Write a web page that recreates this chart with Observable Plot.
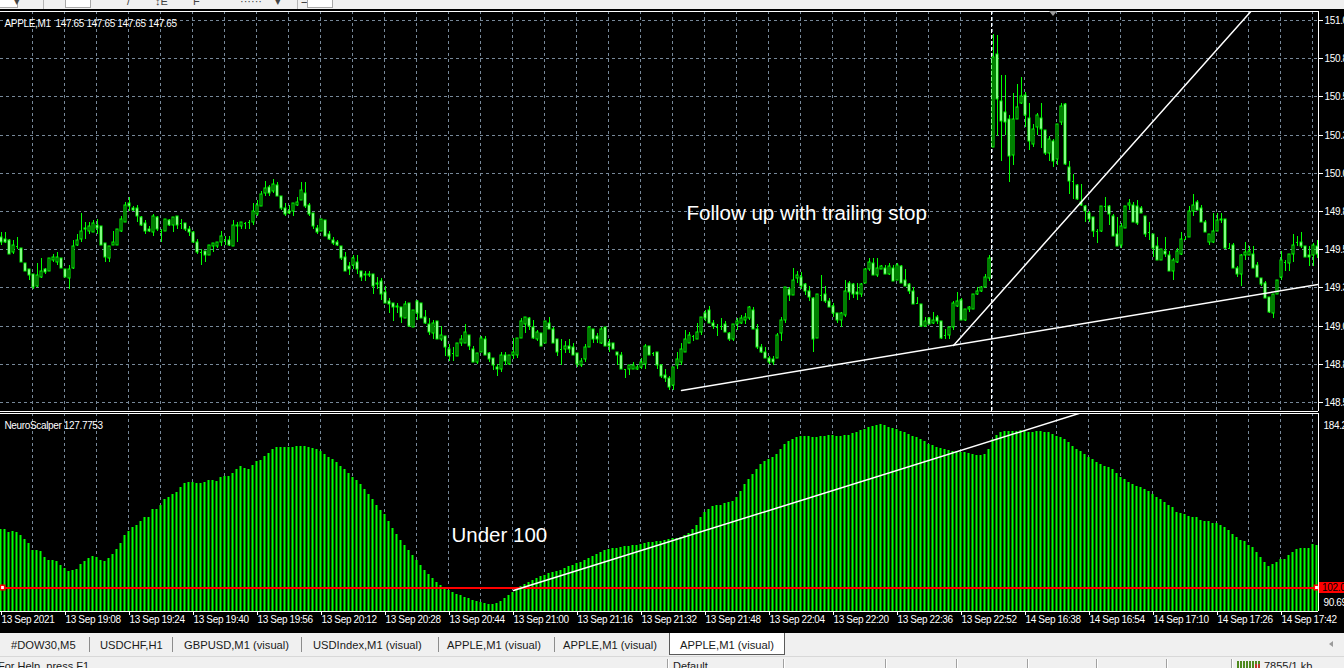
<!DOCTYPE html>
<html>
<head>
<meta charset="utf-8">
<script src="https://cdn.jsdelivr.net/npm/d3@7"></script>
<script src="https://cdn.jsdelivr.net/npm/@observablehq/plot@0.6"></script>
<style>
  html, body { margin: 0; padding: 0; width: 1344px; height: 668px; overflow: hidden; background: #000; }
  #root { position: relative; width: 1344px; height: 668px; background: #000; font-family: "Liberation Sans", Arial, sans-serif; overflow: hidden; }
  #price { position: absolute; left: 0; top: 0; }
  #osc { position: absolute; left: 0; top: 412px; }
  #root svg { letter-spacing: -0.35px; }
  #root svg g[font-size="20.5"] { letter-spacing: 0; }
  #toolbar { position: absolute; left: 0; top: 0; width: 1344px; height: 9px; background: #f0f0f0; overflow: hidden; z-index: 2; }
  #toolbar .box { position: absolute; top: -6px; height: 12px; background: #fff; border: 1px solid #a8a8a8; }
  #toolbar .sep { position: absolute; top: 0; width: 1px; height: 9px; background: #b4b4b4; }
  #toolbar .g { position: absolute; top: -5px; font-size: 11px; color: #444; }
  #shift { position: absolute; left: 1049px; top: 11px; width: 0; height: 0; border-left: 4px solid transparent; border-right: 4px solid transparent; border-top: 5px solid #9a9a9a; z-index: 2; }
  #lvl { position: absolute; left: 1319px; width: 25px; height: 11px; background: #ff0000; color: #000; font-size: 10px; line-height: 11px; padding-left: 3px; letter-spacing: -0.3px; white-space: nowrap; overflow: hidden; }
  #tabs { position: absolute; left: 0; top: 633px; width: 1344px; height: 23px; background: #f0f0f0; font-size: 11.2px; color: #1a1a1a; }
  #tabs .t { position: absolute; top: 6px; white-space: nowrap; }
  #tabs .s { position: absolute; top: 4px; width: 1px; height: 15px; background: #8c8c8c; }
  #tabs .active { position: absolute; left: 669px; top: 0; width: 114px; height: 21px; background: #fff; border: 1px solid #5a5a5a; border-top: none; }
  #tabs .active span { position: absolute; left: 10px; top: 6px; white-space: nowrap; }
  #tabs .arrow { position: absolute; left: 1329px; top: 8px; width: 0; height: 0; border-top: 3px solid transparent; border-bottom: 3px solid transparent; border-right: 4px solid #9a9a9a; }
  #status { position: absolute; left: 0; top: 656px; width: 1344px; height: 12px; background: #f0f0f0; border-top: 1px solid #d8d8d8; font-size: 11px; color: #1a1a1a; overflow: hidden; }
  #status .t { position: absolute; top: 3px; white-space: nowrap; }
  #status .s { position: absolute; top: 2px; width: 1px; height: 12px; background: #a0a0a0; box-shadow: 1px 0 0 #fff; }
  #status .meter { position: absolute; left: 1237px; top: 4px; width: 24px; height: 9px;
    background: repeating-linear-gradient(90deg, #4f8a1e 0 2px, transparent 2px 3px); }
  #status .meter i { position: absolute; right: 0; top: 3px; width: 6px; height: 6px;
    background: repeating-linear-gradient(90deg, #c0392b 0 2px, transparent 2px 3px); }
</style>
</head>
<body>
<div id="root">
  <div id="price"></div>
  <div id="osc"></div>
  <div id="toolbar">
    <div class="box" style="left:-2px;width:18px"></div>
    <span class="g" style="left:14px">&#9662;</span>
    <div class="sep" style="left:43px"></div>
    <div class="box" style="left:65px;width:24px"></div>
    <span class="g" style="left:127px">/</span>
    <span class="g" style="left:155px">&#8597;E</span>
    <span class="g" style="left:193px">F</span>
    <span class="g" style="left:240px">&middot;&middot;&middot;&middot;&middot;&middot;</span>
    <span class="g" style="left:275px">&#9662;</span>
    <div class="sep" style="left:297px"></div>
    <span class="g" style="left:301px">=</span>
    <div class="box" style="left:307px;width:24px"></div>
  </div>
  <div id="shift"></div>
  <div id="lvl"></div>
  <div id="tabs">
    <span class="t" style="left:11px">#DOW30,M5</span>
    <div class="s" style="left:89px"></div>
    <span class="t" style="left:100px">USDCHF,H1</span>
    <div class="s" style="left:172px"></div>
    <span class="t" style="left:184px">GBPUSD,M1 (visual)</span>
    <div class="s" style="left:301px"></div>
    <span class="t" style="left:313px">USDIndex,M1 (visual)</span>
    <div class="s" style="left:438px"></div>
    <span class="t" style="left:447px">APPLE,M1 (visual)</span>
    <div class="s" style="left:554px"></div>
    <span class="t" style="left:563px">APPLE,M1 (visual)</span>
    <div class="active"><span>APPLE,M1 (visual)</span></div>
    <div class="arrow"></div>
  </div>
  <div id="status">
    <span class="t" style="left:-2px">For Help, press F1</span>
    <div class="s" style="left:667px"></div>
    <span class="t" style="left:673px">Default</span>
    <div class="s" style="left:783px"></div>
    <div class="s" style="left:885px"></div>
    <div class="s" style="left:956px"></div>
    <div class="s" style="left:1027px"></div>
    <div class="s" style="left:1096px"></div>
    <div class="s" style="left:1166px"></div>
    <div class="s" style="left:1231px"></div>
    <div class="meter"><i></i></div>
    <span class="t" style="left:1264px">7855/1 kb</span>
  </div>
</div>
<script>
// APPLE, M1 — one-minute bars, 13 Sep 18:52 .. 14 Sep 17:51
const open = [
  149.63,149.62,149.61,149.53,149.57,149.56,149.46,149.42,149.39,149.31,
  149.37,149.42,149.41,149.48,149.47,149.49,149.42,149.36,149.43,149.58,
  149.62,149.68,149.67,149.66,149.71,149.70,149.59,149.49,149.58,149.58,
  149.67,149.73,149.85,149.82,149.82,149.76,149.72,149.68,149.66,149.76,
  149.67,149.67,149.74,149.71,149.77,149.72,149.72,149.68,149.66,149.60,
  149.53,149.54,149.51,149.57,149.57,149.60,149.61,149.61,149.57,149.71,
  149.70,149.72,149.73,149.73,149.78,149.83,149.92,149.96,149.93,149.97,
  149.90,149.82,149.80,149.80,149.84,149.87,149.92,149.84,149.79,149.69,
  149.67,149.74,149.65,149.61,149.60,149.57,149.50,149.44,149.45,149.47,
  149.41,149.39,149.38,149.39,149.32,149.34,149.27,149.21,149.20,149.18,
  149.17,149.10,149.20,149.04,149.21,149.20,149.11,149.06,149.00,149.08,
  148.96,148.98,148.90,148.87,148.85,148.94,148.94,148.99,148.90,148.81,
  148.88,148.96,148.87,148.84,148.78,148.77,148.86,148.80,148.86,148.86,
  148.97,149.06,149.10,149.04,148.96,149.00,148.94,149.07,149.03,148.96,
  148.90,148.90,148.92,148.91,148.87,148.79,148.83,148.91,149.03,148.98,
  148.94,149.04,148.94,148.94,148.88,148.86,148.77,148.77,148.77,148.77,
  148.78,148.80,148.92,148.87,148.88,148.79,148.73,148.71,148.66,148.79,
  148.81,148.88,148.94,148.98,148.96,149.01,149.13,149.15,149.07,149.04,
  149.05,149.06,149.00,148.96,149.06,149.07,149.09,149.10,149.15,149.03,
  148.91,148.88,148.84,148.83,148.84,149.00,149.09,149.29,149.25,149.36,
  149.37,149.32,149.28,149.23,148.97,149.25,149.26,149.21,149.18,149.13,
  149.09,149.12,149.33,149.32,149.27,149.26,149.33,149.42,149.46,149.38,
  149.42,149.43,149.39,149.43,149.35,149.44,149.35,149.32,149.28,149.20,
  149.19,149.05,149.10,149.07,149.11,149.08,148.99,148.99,149.04,149.18,
  149.22,149.09,149.16,149.16,149.26,149.28,149.30,149.36,150.22,150.83,
  150.52,150.45,150.40,150.17,150.40,150.51,150.56,150.41,150.24,150.35,
  150.41,150.33,150.18,150.26,150.14,150.38,150.50,150.09,150.00,149.97,
  149.86,149.83,149.79,149.76,149.67,149.67,149.83,149.83,149.77,149.65,
  149.58,149.69,149.84,149.84,149.83,149.82,149.77,149.66,149.65,149.57,
  149.48,149.54,149.51,149.41,149.47,149.52,149.62,149.63,149.80,149.86,
  149.82,149.73,149.60,149.60,149.67,149.74,149.75,149.56,149.58,149.43,
  149.39,149.51,149.51,149.52,149.45,149.36,149.33,149.24,149.13,149.26,
  149.37,149.47,149.46,149.52,149.60,149.60,149.57,149.51,149.51,149.57
];
const high = [
  149.66,149.66,149.62,149.61,149.63,149.56,149.46,149.42,149.39,149.46,
  149.49,149.43,149.49,149.52,149.53,149.49,149.42,149.45,149.61,149.65,
  149.79,149.73,149.73,149.74,149.75,149.70,149.59,149.57,149.67,149.68,
  149.77,149.86,149.89,149.83,149.84,149.77,149.74,149.70,149.78,149.77,
  149.68,149.75,149.75,149.76,149.77,149.75,149.72,149.70,149.67,149.62,
  149.55,149.54,149.58,149.59,149.60,149.67,149.64,149.64,149.74,149.73,
  149.73,149.73,149.74,149.85,149.87,149.93,150.00,149.97,150.01,149.99,
  149.90,149.85,149.84,149.85,149.89,149.99,149.99,149.85,149.79,149.71,
  149.75,149.74,149.67,149.63,149.61,149.57,149.53,149.47,149.51,149.51,
  149.41,149.41,149.41,149.39,149.37,149.36,149.31,149.23,149.20,149.20,
  149.17,149.21,149.20,149.15,149.22,149.20,149.15,149.10,149.09,149.08,
  149.05,148.98,148.93,148.91,148.94,148.99,149.06,148.99,148.92,148.87,
  148.98,148.98,148.88,148.84,148.80,148.88,148.88,148.86,148.97,148.97,
  149.10,149.11,149.11,149.09,149.02,149.00,149.08,149.11,149.04,148.96,
  148.96,148.95,148.96,148.94,148.87,148.84,148.93,149.05,149.03,149.00,
  149.04,149.04,148.96,148.94,148.88,148.88,148.77,148.79,148.81,148.79,
  148.84,148.93,148.92,148.88,148.88,148.80,148.77,148.72,148.78,148.88,
  148.94,149.02,149.01,148.99,149.07,149.11,149.15,149.18,149.09,149.06,
  149.10,149.08,149.01,149.06,149.10,149.12,149.13,149.18,149.17,149.06,
  148.93,148.91,148.85,148.85,149.00,149.11,149.30,149.30,149.43,149.41,
  149.40,149.33,149.31,149.24,149.26,149.38,149.31,149.23,149.20,149.13,
  149.14,149.35,149.34,149.33,149.33,149.33,149.43,149.49,149.49,149.49,
  149.45,149.45,149.46,149.45,149.46,149.45,149.42,149.33,149.30,149.24,
  149.19,149.11,149.11,149.14,149.12,149.08,149.03,149.04,149.21,149.27,
  149.23,149.16,149.18,149.26,149.30,149.31,149.39,149.51,150.96,150.95,
  150.69,150.69,150.43,150.57,150.63,150.68,150.58,150.51,150.37,150.44,
  150.51,150.33,150.29,150.27,150.37,150.51,150.51,150.13,150.04,149.98,
  149.98,149.84,149.80,149.76,149.68,149.83,149.89,149.84,149.78,149.76,
  149.72,149.83,149.88,149.86,149.87,149.83,149.77,149.73,149.65,149.63,
  149.55,149.63,149.54,149.49,149.56,149.66,149.64,149.83,149.91,149.87,
  149.84,149.74,149.65,149.79,149.79,149.79,149.75,149.59,149.59,149.44,
  149.52,149.60,149.57,149.57,149.47,149.36,149.34,149.24,149.26,149.35,
  149.54,149.48,149.52,149.65,149.64,149.66,149.57,149.57,149.59,149.61
];
const low = [
  149.58,149.59,149.52,149.52,149.55,149.47,149.41,149.35,149.29,149.30,
  149.36,149.39,149.41,149.47,149.45,149.43,149.37,149.29,149.42,149.57,
  149.60,149.62,149.65,149.66,149.65,149.58,149.47,149.47,149.58,149.58,
  149.66,149.73,149.80,149.80,149.73,149.70,149.65,149.66,149.64,149.67,
  149.60,149.67,149.70,149.66,149.68,149.68,149.67,149.64,149.59,149.52,
  149.45,149.47,149.51,149.53,149.56,149.57,149.58,149.57,149.57,149.60,
  149.68,149.68,149.68,149.71,149.77,149.83,149.90,149.90,149.92,149.90,
  149.81,149.77,149.78,149.77,149.83,149.87,149.82,149.77,149.68,149.65,
  149.67,149.64,149.61,149.58,149.57,149.48,149.41,149.38,149.42,149.39,
  149.34,149.34,149.37,149.26,149.29,149.22,149.20,149.13,149.08,149.13,
  149.07,149.10,149.04,149.04,149.09,149.10,149.06,148.99,148.96,148.96,
  148.95,148.85,148.82,148.82,148.85,148.92,148.94,148.89,148.81,148.80,
  148.88,148.86,148.81,148.76,148.72,148.75,148.79,148.79,148.83,148.84,
  148.97,149.00,149.02,148.96,148.95,148.92,148.94,149.03,148.94,148.85,
  148.79,148.87,148.87,148.86,148.78,148.78,148.81,148.91,148.94,148.94,
  148.93,148.92,148.88,148.90,148.79,148.77,148.71,148.73,148.77,148.76,
  148.77,148.77,148.86,148.85,148.77,148.71,148.68,148.63,148.63,148.77,
  148.79,148.88,148.94,148.95,148.96,148.99,149.08,149.07,149.03,148.98,
  149.02,149.01,148.95,148.95,149.02,149.06,149.06,149.09,149.03,148.90,
  148.87,148.84,148.80,148.79,148.84,148.95,149.07,149.21,149.25,149.33,
  149.29,149.25,149.21,148.88,148.97,149.21,149.20,149.17,149.11,149.07,
  149.04,149.11,149.22,149.23,149.22,149.24,149.33,149.41,149.38,149.37,
  149.42,149.39,149.38,149.34,149.35,149.33,149.31,149.26,149.19,149.19,
  149.04,149.04,149.06,149.06,149.06,148.96,148.96,148.96,149.02,149.17,
  149.09,149.08,149.14,149.16,149.25,149.27,149.30,149.34,150.22,150.29,
  150.13,150.30,149.99,150.10,150.40,150.50,150.35,150.20,150.22,150.30,
  150.21,150.17,150.13,150.09,150.10,150.36,150.10,149.91,149.88,149.87,
  149.83,149.73,149.73,149.63,149.59,149.66,149.80,149.71,149.64,149.57,
  149.56,149.69,149.81,149.73,149.71,149.79,149.63,149.61,149.50,149.48,
  149.48,149.50,149.41,149.35,149.46,149.51,149.61,149.63,149.77,149.81,
  149.73,149.66,149.58,149.59,149.67,149.72,149.55,149.55,149.43,149.37,
  149.31,149.48,149.51,149.43,149.37,149.31,149.23,149.13,149.10,149.26,
  149.35,149.41,149.41,149.47,149.57,149.56,149.50,149.44,149.44,149.49
];
const close = [
  149.60,149.60,149.52,149.58,149.57,149.47,149.41,149.38,149.30,149.38,
  149.41,149.40,149.49,149.50,149.50,149.43,149.37,149.42,149.57,149.61,
  149.67,149.69,149.70,149.72,149.69,149.58,149.50,149.57,149.60,149.68,
  149.75,149.84,149.83,149.81,149.77,149.71,149.67,149.67,149.77,149.68,
  149.67,149.75,149.71,149.76,149.71,149.72,149.68,149.66,149.60,149.53,
  149.53,149.51,149.58,149.59,149.60,149.64,149.61,149.58,149.71,149.70,
  149.73,149.72,149.73,149.80,149.84,149.91,149.95,149.92,149.98,149.90,
  149.82,149.78,149.79,149.85,149.86,149.94,149.83,149.78,149.70,149.66,
  149.75,149.64,149.62,149.59,149.58,149.49,149.41,149.42,149.49,149.42,
  149.37,149.38,149.39,149.31,149.33,149.26,149.20,149.19,149.17,149.17,
  149.11,149.19,149.05,149.15,149.13,149.10,149.07,149.01,149.07,148.96,
  148.99,148.91,148.85,148.87,148.94,148.96,149.01,148.92,148.81,148.87,
  148.97,148.86,148.83,148.79,148.77,148.86,148.82,148.86,148.88,148.97,
  149.08,149.11,149.05,148.97,149.01,148.92,149.08,149.03,148.94,148.88,
  148.90,148.92,148.90,148.86,148.80,148.82,148.91,149.04,148.96,148.96,
  149.03,148.92,148.92,148.90,148.86,148.77,148.77,148.79,148.79,148.78,
  148.81,148.92,148.86,148.87,148.79,148.72,148.71,148.65,148.78,148.83,
  148.90,148.96,148.99,148.98,149.01,149.11,149.10,149.07,149.05,149.04,
  149.05,149.01,148.96,149.06,149.08,149.10,149.11,149.17,149.03,148.91,
  148.88,148.84,148.81,148.81,148.99,149.09,149.30,149.25,149.35,149.38,
  149.31,149.28,149.24,148.96,149.26,149.25,149.21,149.17,149.13,149.09,
  149.13,149.28,149.27,149.26,149.26,149.32,149.42,149.47,149.38,149.43,
  149.44,149.39,149.44,149.34,149.45,149.33,149.31,149.28,149.19,149.20,
  149.05,149.08,149.06,149.09,149.08,148.97,148.99,149.04,149.20,149.21,
  149.09,149.16,149.17,149.26,149.28,149.30,149.37,149.49,150.81,150.53,
  150.39,150.38,150.16,150.40,150.48,150.55,150.43,150.26,150.34,150.43,
  150.34,150.18,150.27,150.13,150.37,150.49,150.11,150.00,150.00,149.88,
  149.84,149.80,149.75,149.67,149.67,149.83,149.83,149.78,149.64,149.57,
  149.70,149.83,149.85,149.73,149.72,149.79,149.65,149.66,149.56,149.48,
  149.55,149.52,149.41,149.48,149.54,149.62,149.62,149.80,149.84,149.81,
  149.73,149.66,149.65,149.67,149.74,149.75,149.56,149.56,149.43,149.39,
  149.51,149.53,149.54,149.43,149.37,149.32,149.23,149.14,149.26,149.35,
  149.48,149.47,149.52,149.58,149.60,149.57,149.50,149.50,149.58,149.52
];
// NeuroScalper histogram, one value per bar
const neuro = [
  129.6,129.6,128.2,128.7,128.2,126.8,124.9,123.0,119.7,119.7,
  119.2,116.3,114.9,114.9,114.4,112.5,111.1,109.7,110.2,110.6,
  113.0,114.4,115.9,116.8,116.3,114.9,114.4,115.9,117.8,120.1,
  123.0,126.8,128.7,130.6,131.5,133.4,134.9,135.3,139.1,139.1,
  141.0,143.4,144.4,145.8,146.7,149.1,151.0,151.5,151.5,151.0,
  151.0,151.5,152.4,152.4,152.0,153.9,154.3,154.3,155.7,157.7,
  159.1,158.1,157.7,159.5,161.5,161.9,163.8,165.3,167.2,168.1,
  168.1,168.1,168.1,168.1,168.6,168.6,168.6,168.1,167.6,167.2,
  166.2,164.8,163.4,162.4,161.0,159.1,157.7,155.7,153.9,152.4,
  150.5,148.2,145.8,143.4,141.0,138.6,136.3,133.4,130.1,127.3,
  124.4,122.0,119.7,117.3,114.9,112.5,110.2,108.3,106.4,104.5,
  103.0,101.6,100.7,99.7,98.8,98.3,97.3,96.9,95.9,95.4,
  95.0,94.5,94.0,94.0,94.5,95.4,96.9,98.3,99.7,101.1,
  102.6,103.5,104.5,105.4,106.4,107.3,107.8,108.7,109.2,109.7,
  110.2,111.1,112.1,112.5,113.5,114.0,114.9,115.9,116.8,117.8,
  118.7,119.7,120.1,120.6,120.6,121.1,121.6,121.6,122.0,122.0,
  122.5,123.0,123.5,123.5,123.9,123.9,124.4,124.9,125.4,125.4,
  125.8,126.8,127.7,129.6,131.5,134.9,137.7,139.1,140.1,140.6,
  141.0,141.5,142.0,142.9,144.4,147.2,150.5,152.9,155.3,157.7,
  160.0,161.5,162.4,163.4,164.8,167.2,169.5,171.0,171.9,172.9,
  173.3,173.3,173.3,172.9,172.9,173.3,173.3,173.8,173.8,173.3,
  173.3,173.8,173.8,174.7,175.2,176.2,176.6,177.6,178.1,178.5,
  179.0,178.5,177.6,177.1,176.6,175.7,175.2,174.3,173.3,172.9,
  171.9,171.0,169.5,169.1,168.1,167.6,167.2,166.7,166.2,166.2,
  165.7,165.7,165.3,164.8,164.3,164.3,164.8,167.2,171.9,173.8,
  175.2,175.7,175.7,175.7,175.7,176.2,175.7,175.2,175.2,175.7,
  175.7,175.2,175.2,174.3,173.3,172.9,171.9,170.5,168.6,167.2,
  166.2,164.8,163.4,162.4,161.0,160.0,159.1,158.6,157.7,155.7,
  153.9,152.9,151.5,150.5,149.6,149.1,148.2,147.2,145.8,144.4,
  143.4,142.0,141.0,139.6,137.7,136.8,136.3,135.8,135.3,134.9,
  133.9,133.4,133.0,132.5,132.5,131.5,130.6,129.2,127.3,125.8,
  124.4,123.9,122.0,121.1,118.7,116.3,114.0,112.1,113.0,114.0,
  115.4,115.4,117.3,118.7,120.1,120.6,120.6,120.6,122.5,122.0
];

// Axis ticks and labels
const priceTicks = [151.05, 150.80, 150.55, 150.30, 150.05, 149.80, 149.55, 149.30, 149.05, 148.80, 148.55];
const timeLabelBars = [0, 16, 32, 48, 64, 80, 96, 112, 128, 144, 160, 176, 192, 208, 224, 240, 256, 272, 288, 304, 320];
const timeLabels = ["13 Sep 2021", "13 Sep 19:08", "13 Sep 19:24", "13 Sep 19:40", "13 Sep 19:56", "13 Sep 20:12",
  "13 Sep 20:28", "13 Sep 20:44", "13 Sep 21:00", "13 Sep 21:16", "13 Sep 21:32", "13 Sep 21:48", "13 Sep 22:04",
  "13 Sep 22:20", "13 Sep 22:36", "13 Sep 22:52", "14 Sep 16:38", "14 Sep 16:54", "14 Sep 17:10", "14 Sep 17:26", "14 Sep 17:42"];
const dayBreakBar = 247.5;           // between 13 Sep 22:59 and 14 Sep 16:30
const priceRange = [148.492, 151.109];
const neuroRange = [90.69, 184.25];
const neuroLevel = 102;
const neuroScaleLabels = ["184.2466", "90.6931"];

// Trend lines (bar index, value)
const shallowBars = [170, 238], shallowPrices = [148.627, 148.925];
const steepBars = [238, 312], steepPrices = [148.925, 151.10];
const neuroTrendBars = [128, 269.25], neuroTrendValues = [100.6, 184.25];

// Text objects
const priceCaption = "APPLE,M1  147.65 147.65 147.65 147.65";
const neuroCaption = "NeuroScalper 127.7753";
const noteTop = {text: "Follow up with trailing stop", bar: 171.25, value: 149.79};
const noteBottom = {text: "Under 100", bar: 112.5, value: 126.8};

const green = "#00ff00";
const gridColor = "#778899";
const nBars = close.length;
const xDomain = [-0.25, nBars - 0.75];
const gridBars = d3.range(1, 42).map(k => 8 * k - 0.25);

const bars = close.map((c, i) => ({i, o: open[i], h: high[i], l: low[i], c}));
const bodies = bars.filter(d => Math.abs(d.o - d.c) >= 0.005);
const dojis = bars.filter(d => Math.abs(d.o - d.c) < 0.005);
const hist = neuro.map((v, i) => ({i, v}));

function ray(bs, vs, endBar) {
  const slope = (vs[1] - vs[0]) / (bs[1] - bs[0]);
  return [{x: bs[0], y: vs[0]}, {x: endBar, y: vs[0] + slope * (endBar - bs[0])}];
}
const labelOf = new Map(timeLabelBars.map((b, k) => [b, timeLabels[k]]));

const common = {
  width: 1344, marginLeft: 0, marginRight: 26,
  style: {background: "transparent", color: "white", fontFamily: "'Liberation Sans', Arial, sans-serif", fontSize: "10px"}
};

const pricePlot = Plot.plot({
  ...common,
  height: 412, marginTop: 11, marginBottom: 1,
  x: {domain: xDomain, axis: null},
  y: {domain: priceRange, axis: null, round: true},
  marks: [
    Plot.ruleY(priceTicks, {stroke: gridColor, strokeDasharray: "3,3"}),
    Plot.ruleX(gridBars, {stroke: gridColor, strokeDasharray: "3,3"}),
    Plot.ruleX([dayBreakBar], {stroke: "white", strokeDasharray: "4,2"}),
    Plot.ruleX(bars, {x: "i", y1: "l", y2: "h", stroke: green}),
    Plot.rect(bodies, {x1: d => d.i - 0.25, x2: d => d.i + 0.25, y1: "o", y2: "c",
      fill: d => d.c < d.o ? "white" : "black", stroke: green}),
    Plot.ruleY(dojis, {y: "c", x1: d => d.i - 0.25, x2: d => d.i + 0.25, stroke: green}),
    Plot.line(ray(shallowBars, shallowPrices, xDomain[1]), {x: "x", y: "y", stroke: "white", clip: true}),
    Plot.line(ray(steepBars, steepPrices, xDomain[1]), {x: "x", y: "y", stroke: "white", clip: true}),
    Plot.text([noteTop], {x: "bar", y: "value", text: "text", textAnchor: "start", fill: "white", fontSize: 20.5}),
    Plot.text([priceCaption], {frameAnchor: "top-left", dx: 4, dy: 8, textAnchor: "start", fill: "white"}),
    Plot.axisY(priceTicks, {anchor: "right", tickSize: 4, tickPadding: 2, tickFormat: d => d.toFixed(2), color: "white", fontSize: 10}),
    Plot.ruleY([priceRange[1]], {stroke: "white"}),
    Plot.ruleY([priceRange[0]], {stroke: "white"}),
    Plot.ruleX([xDomain[1]], {stroke: "white"})
  ]
});
document.getElementById("price").appendChild(pricePlot);

const oscPlot = Plot.plot({
  ...common,
  height: 221, marginTop: 1, marginBottom: 22,
  x: {domain: xDomain, axis: null},
  y: {domain: neuroRange, axis: null, round: true},
  marks: [
    Plot.ruleX(gridBars, {stroke: gridColor, strokeDasharray: "3,3"}),
    // two-pixel histogram columns, each covering its bar position
    Plot.rect(hist, {x1: d => d.i - 0.375, x2: d => d.i + 0.125, y1: neuroRange[0], y2: "v", fill: green}),
    Plot.ruleY([neuroLevel], {stroke: "#ff0000", strokeWidth: 2, dy: 0.5}),
    Plot.dot([neuroLevel], {y: d => d, frameAnchor: "left", dx: 2, symbol: "square", r: 2.4, fill: "white", stroke: "#ff0000", strokeWidth: 1.5}),
    Plot.dot([neuroLevel], {y: d => d, frameAnchor: "right", dx: -2, symbol: "square", r: 2.4, fill: "white", stroke: "#ff0000", strokeWidth: 1.5}),
    Plot.line(ray(neuroTrendBars, neuroTrendValues, xDomain[1]), {x: "x", y: "y", stroke: "white", clip: true}),
    Plot.text([noteBottom], {x: "bar", y: "value", text: "text", textAnchor: "start", fill: "white", fontSize: 20.5}),
    Plot.text([neuroCaption], {frameAnchor: "top-left", dx: 4, dy: 8, textAnchor: "start", fill: "white"}),
    Plot.text([neuroScaleLabels[0]], {frameAnchor: "top-right", dx: 5, dy: 8, textAnchor: "start", fill: "white"}),
    Plot.text([neuroScaleLabels[1]], {frameAnchor: "bottom-right", dx: 5, dy: -6, textAnchor: "start", fill: "white"}),
    Plot.axisX(timeLabelBars, {anchor: "bottom", tickSize: 4, tickPadding: 0, tickFormat: d => labelOf.get(d),
      textAnchor: "start", color: "white", fontSize: 10}),
    Plot.ruleY([neuroRange[1]], {stroke: "white"}),
    Plot.ruleY([neuroRange[0]], {stroke: "white"}),
    Plot.ruleX([xDomain[1]], {stroke: "white"})
  ]
});
document.getElementById("osc").appendChild(oscPlot);

// red level tag on the indicator scale
const lvl = document.getElementById("lvl");
const lvlY = 412 + oscPlot.scale("y").apply(neuroLevel);
lvl.style.top = (lvlY - 5) + "px";
lvl.textContent = neuroLevel.toFixed(2);
</script>
</body>
</html>
